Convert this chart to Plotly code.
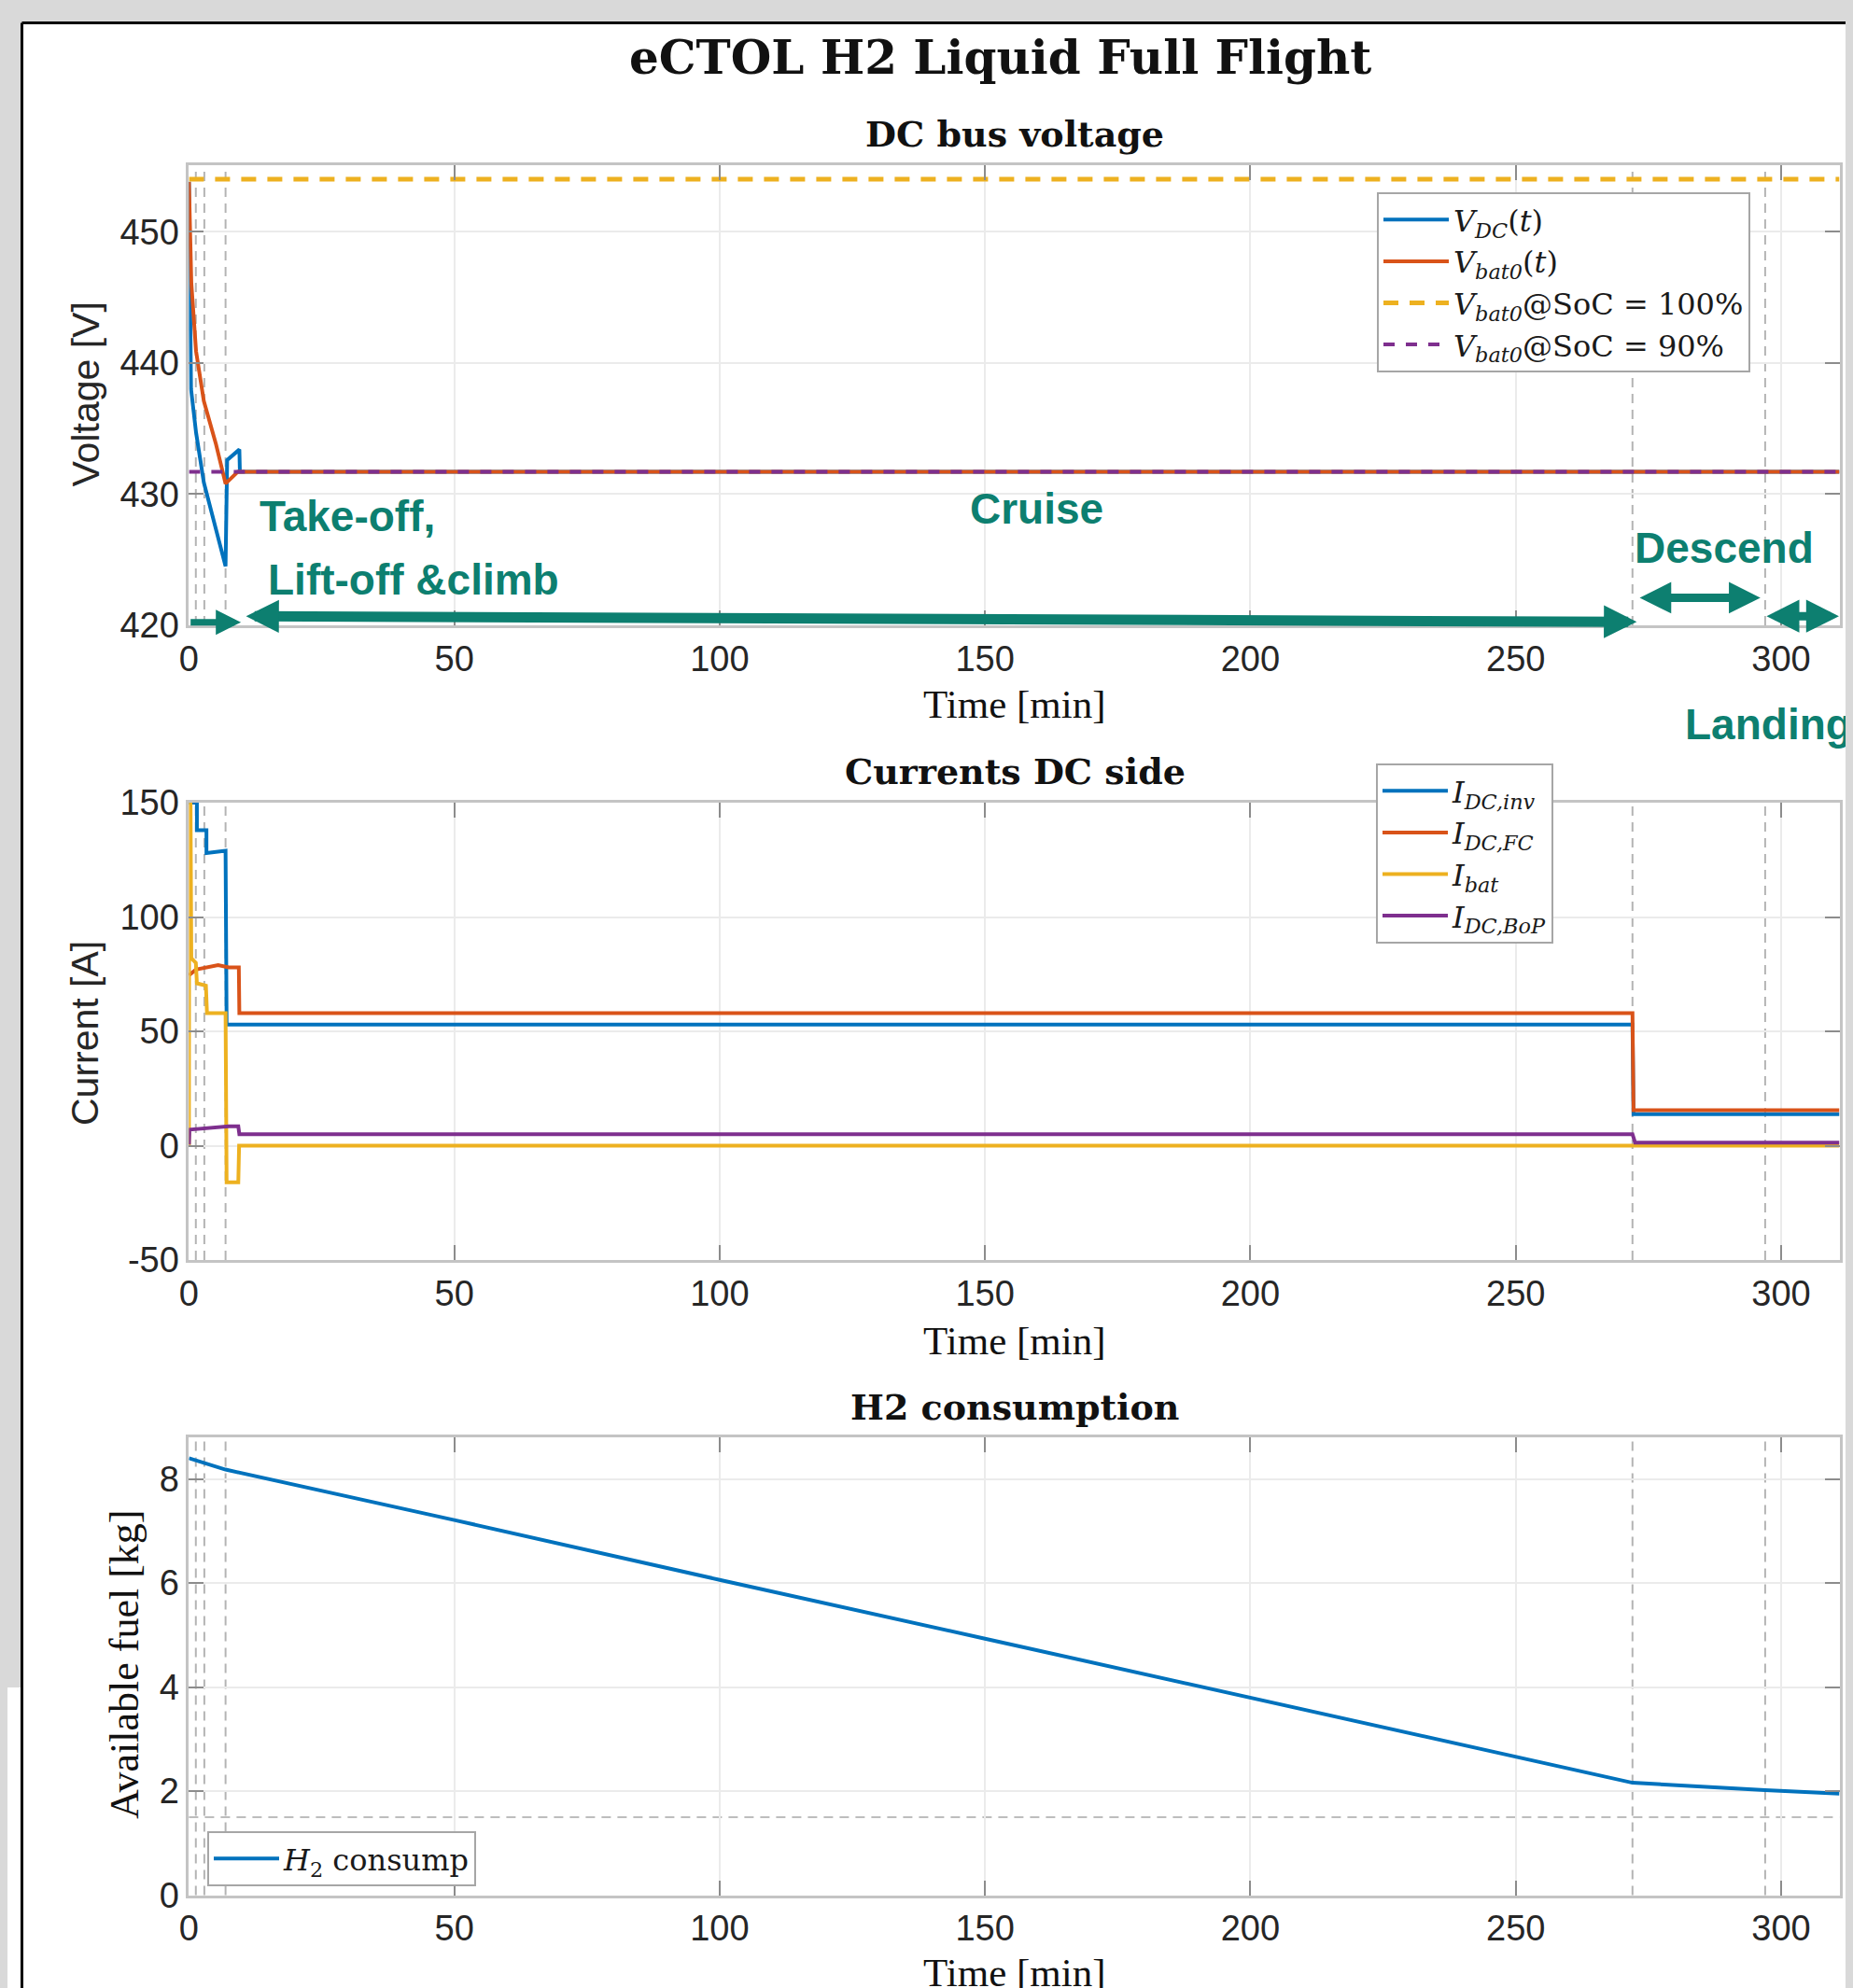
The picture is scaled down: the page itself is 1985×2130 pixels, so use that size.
import plotly.graph_objects as go

# ---------------- data ----------------
phase_bounds_min = [1.3, 2.9, 6.9, 272.0, 297.0]

# DC bus voltage
t_vdc = [0, 0.1, 0.4, 1.34, 2.8, 6.9, 7.2, 9.5, 9.6, 311]
v_dc = [453.8, 450.0, 438.0, 434.7, 430.9, 424.5, 432.6, 433.4, 431.7, 431.7]
t_vbat = [0, 0.45, 1.34, 2.8, 5.1, 6.9, 9.2, 311]
v_bat = [453.8, 446.1, 440.9, 437.1, 433.8, 430.8, 431.7, 431.7]
t_ref = [0, 311]
v_soc100 = [454.0, 454.0]
v_soc90 = [431.7, 431.7]

# Currents DC side
t_inv = [0, 1.5, 1.5, 3.3, 3.3, 6.9, 7.1, 272.0, 272.2, 311]
i_inv = [150, 150, 138, 138, 128, 129, 53, 53, 13.8, 13.8]
t_fc = [0, 1.3, 5.5, 7.5, 9.4, 9.5, 272.0, 272.2, 311]
i_fc = [74.5, 77, 79, 78, 78, 58, 58, 15.5, 15.5]
t_bat = [0, 0.05, 0.3, 0.45, 1.3, 1.5, 3.2, 3.4, 6.9, 7.1, 9.3, 9.45, 311]
i_bat = [0, 150, 150, 82, 80, 71, 70, 58, 58, -16, -16, 0, 0]
t_bop = [0, 0.1, 7.5, 9.3, 9.5, 272.0, 272.5, 311]
i_bop = [0.5, 7.0, 8.5, 8.5, 5.0, 5.0, 1.3, 1.3]

# H2 consumption
t_h2 = [0, 1.34, 2.9, 6.9, 50, 100, 150, 200, 250, 272, 297, 311]
h2_kg = [8.40, 8.36, 8.31, 8.18, 7.21, 6.06, 4.93, 3.80, 2.66, 2.16, 2.02, 1.95]
fuel_reserve_kg = 1.5

x_ticks = [0, 50, 100, 150, 200, 250, 300]
y1_ticks = [420, 430, 440, 450]
y2_ticks = [-50, 0, 50, 100, 150]
y2_tick_labels = ["-50", "0", "50", "100", "150"]
y3_ticks = [0, 2, 4, 6, 8]

# ---------------- styling ----------------
W, H = 1985, 2130
OFF = 8  # default page margin of the html body
BLUE, ORANGE, YELLOW, PURPLE = "#0072BD", "#D95319", "#EDB120", "#7E2F8E"
TEAL = "#0d7f70"
LW = 4


def px(xp):
    return (xp - OFF) / W


def py(yp):
    return 1 - (yp - OFF) / H


fig = go.Figure()

# plot 1
fig.add_trace(go.Scatter(x=t_vdc, y=v_dc, mode="lines", line=dict(color=BLUE, width=LW),
                         name="<i>V</i><sub><i>DC</i></sub>(<i>t</i>)", xaxis="x", yaxis="y", legend="legend"))
fig.add_trace(go.Scatter(x=t_vbat, y=v_bat, mode="lines", line=dict(color=ORANGE, width=LW),
                         name="<i>V</i><sub><i>bat0</i></sub>(<i>t</i>)", xaxis="x", yaxis="y", legend="legend"))
fig.add_trace(go.Scatter(x=t_ref, y=v_soc100, mode="lines",
                         line=dict(color=YELLOW, width=5, dash="16px,12px"),
                         name="<i>V</i><sub><i>bat0</i></sub>@SoC = 100%", xaxis="x", yaxis="y", legend="legend"))
fig.add_trace(go.Scatter(x=t_ref, y=v_soc90, mode="lines",
                         line=dict(color=PURPLE, width=4, dash="12px,12px"),
                         name="<i>V</i><sub><i>bat0</i></sub>@SoC = 90%", xaxis="x", yaxis="y", legend="legend"))

# plot 2
fig.add_trace(go.Scatter(x=t_inv, y=i_inv, mode="lines", line=dict(color=BLUE, width=LW),
                         name="<i>I</i><sub><i>DC,inv</i></sub>", xaxis="x2", yaxis="y2", legend="legend2"))
fig.add_trace(go.Scatter(x=t_fc, y=i_fc, mode="lines", line=dict(color=ORANGE, width=LW),
                         name="<i>I</i><sub><i>DC,FC</i></sub>", xaxis="x2", yaxis="y2", legend="legend2"))
fig.add_trace(go.Scatter(x=t_bat, y=i_bat, mode="lines", line=dict(color=YELLOW, width=LW),
                         name="<i>I</i><sub><i>bat</i></sub>", xaxis="x2", yaxis="y2", legend="legend2"))
fig.add_trace(go.Scatter(x=t_bop, y=i_bop, mode="lines", line=dict(color=PURPLE, width=LW),
                         name="<i>I</i><sub><i>DC,BoP</i></sub>", xaxis="x2", yaxis="y2", legend="legend2"))

# plot 3
fig.add_trace(go.Scatter(x=t_h2, y=h2_kg, mode="lines", line=dict(color=BLUE, width=LW),
                         name="<i>H</i><sub>2</sub> consump", xaxis="x3", yaxis="y3", legend="legend3"))

x_dom = [px(202.4), px(1970.5)]
y_doms = [[py(670), py(176.6)], [py(1350), py(860)], [py(2030.5), py(1540)]]

tickfont = dict(family="Liberation Sans, Arial, sans-serif", size=38, color="#262626")


def axis_common():
    return dict(showline=True, linecolor="#c4c4c4", linewidth=3, mirror="ticks", automargin=False,
                showgrid=True, gridcolor="#ebebeb", gridwidth=2, zeroline=False,
                ticks="inside", ticklen=16, tickwidth=2, tickcolor="#8c8c8c",
                tickfont=tickfont)


layout = dict(width=W, height=H, autosize=False,
              margin=dict(l=0, r=0, t=0, b=0, pad=0, autoexpand=False),
              paper_bgcolor="white", plot_bgcolor="white", showlegend=True)

for i, (xa, ya) in enumerate([("xaxis", "yaxis"), ("xaxis2", "yaxis2"), ("xaxis3", "yaxis3")]):
    xd = axis_common()
    xd.update(domain=x_dom, range=[0, 311], tickvals=x_ticks, anchor="y" if i == 0 else f"y{i+1}")
    yd = axis_common()
    yd.update(domain=y_doms[i], anchor="x" if i == 0 else f"x{i+1}")
    layout[xa] = xd
    layout[ya] = yd

layout["yaxis"].update(range=[420, 455.1], tickvals=y1_ticks)
layout["yaxis2"].update(range=[-50, 150], tickvals=y2_ticks, ticktext=y2_tick_labels)
layout["yaxis3"].update(range=[0, 8.8], tickvals=y3_ticks)

leg_font = dict(family="DejaVu Serif, serif", size=32, color="#1a1a1a")
leg_common = dict(bgcolor="white", bordercolor="#a6a6a6", borderwidth=2, font=leg_font,
                  xref="container", yref="container",
                  xanchor="left", yanchor="top", tracegroupgap=0, itemwidth=70)
layout["legend"] = dict(x=px(1475), y=py(206), **leg_common)
layout["legend2"] = dict(x=px(1474), y=py(818), **leg_common)
layout["legend3"] = dict(x=px(222), y=py(1962), **leg_common)

fig.update_layout(**layout)

# ---------------- shapes: phase boundaries, reserve, page frame ----------------
shapes = []
for k, (xr, yr) in enumerate([("x", "y"), ("x2", "y2"), ("x3", "y3")]):
    for tb in phase_bounds_min:
        shapes.append(dict(type="line", xref=xr, yref=f"{yr} domain", x0=tb, x1=tb, y0=0, y1=1,
                           line=dict(color="#b4b4b4", width=2, dash="10px,7px"), layer="below"))
shapes.append(dict(type="line", xref="x3 domain", yref="y3", x0=0, x1=1, y0=fuel_reserve_kg, y1=fuel_reserve_kg,
                   line=dict(color="#bdbdbd", width=2, dash="10px,7px"), layer="below"))
# page frame (grey surround + black border)
shapes.append(dict(type="rect", xref="paper", yref="paper", x0=0, x1=1, y0=py(24.5), y1=1,
                   fillcolor="#d9d9d9", line=dict(width=0), layer="below"))
shapes.append(dict(type="rect", xref="paper", yref="paper", x0=0, x1=px(23.5), y0=py(1808), y1=1,
                   fillcolor="#d9d9d9", line=dict(width=0), layer="below"))
shapes.append(dict(type="line", xref="paper", yref="paper", x0=px(23.5), x1=1, y0=py(24.5), y1=py(24.5),
                   line=dict(color="black", width=3), layer="below"))
shapes.append(dict(type="line", xref="paper", yref="paper", x0=px(23.5), x1=px(23.5), y0=0, y1=py(24.5),
                   line=dict(color="black", width=3), layer="below"))
fig.update_layout(shapes=shapes)

# ---------------- text annotations ----------------
ann = []
serif_b = "DejaVu Serif, serif"
ann.append(dict(text="<b>eCTOL H2 Liquid Full Flight</b>", x=px(1071), y=py(62), xref="paper", yref="paper",
                showarrow=False, font=dict(family=serif_b, size=50, color="#111111"), xanchor="center", yanchor="middle"))
for title, ycen in [("DC bus voltage", 144), ("Currents DC side", 826), ("H2 consumption", 1507)]:
    ann.append(dict(text=f"<b>{title}</b>", x=px(1087), y=py(ycen), xref="paper", yref="paper", showarrow=False,
                    font=dict(family=serif_b, size=38, color="#111111"), xanchor="center", yanchor="middle"))
for ycen in [754, 1436, 2113]:
    ann.append(dict(text="Time [min]", x=px(1087), y=py(ycen), xref="paper", yref="paper", showarrow=False,
                    font=dict(family="Liberation Serif, serif", size=43, color="#111111"),
                    xanchor="center", yanchor="middle"))
ann.append(dict(text="Voltage [V]", x=px(91), y=py(422.5), xref="paper", yref="paper", showarrow=False, textangle=-90,
                font=dict(family="Liberation Sans, Arial, sans-serif", size=41, color="#262626"),
                xanchor="center", yanchor="middle"))
ann.append(dict(text="Current [A]", x=px(91), y=py(1107), xref="paper", yref="paper", showarrow=False, textangle=-90,
                font=dict(family="Liberation Sans, Arial, sans-serif", size=41, color="#262626"),
                xanchor="center", yanchor="middle"))
ann.append(dict(text="Available fuel [kg]", x=px(133), y=py(1784), xref="paper", yref="paper", showarrow=False,
                textangle=-90, font=dict(family="Liberation Serif, serif", size=44, color="#111111"),
                xanchor="center", yanchor="middle"))

phase_font = dict(family="Liberation Sans, Arial, sans-serif", size=46, color=TEAL)
ann.append(dict(text="<b>Take-off,</b>", x=12.9, y=428.3, xref="x", yref="y", showarrow=False, font=phase_font,
                xanchor="left", yanchor="middle"))
ann.append(dict(text="<b>Lift-off &amp;climb</b>", x=14.5, y=423.5, xref="x", yref="y", showarrow=False,
                font=phase_font, xanchor="left", yanchor="middle"))
ann.append(dict(text="<b>Cruise</b>", x=159.7, y=428.9, xref="x", yref="y", showarrow=False, font=phase_font,
                xanchor="center", yanchor="middle"))
ann.append(dict(text="<b>Descend</b>", x=289.3, y=425.9, xref="x", yref="y", showarrow=False, font=phase_font,
                xanchor="center", yanchor="middle"))
ann.append(dict(text="<b>Landing</b>", x=px(1803), y=py(776), xref="paper", yref="paper", showarrow=False,
                font=phase_font, xanchor="left", yanchor="middle"))

# phase arrows
arrow_base = dict(xref="x", yref="y", axref="x", ayref="y", text="", showarrow=True,
                  arrowcolor=TEAL, arrowhead=2, standoff=0, startstandoff=0)
ann.append(dict(x=9.8, y=420.23, ax=0.05, ay=420.23, arrowwidth=7, arrowsize=0.77, **arrow_base))
ann.append(dict(x=272.8, y=420.26, ax=10.5, ay=420.7, arrowwidth=11, arrowsize=0.64,
                arrowside="end+start", startarrowhead=2, startarrowsize=0.64, **arrow_base))
ann.append(dict(x=296.1, y=422.1, ax=273.1, ay=422.1, arrowwidth=9, arrowsize=0.75,
                arrowside="end+start", startarrowhead=2, startarrowsize=0.75, **arrow_base))
ann.append(dict(x=310.9, y=420.7, ax=297.0, ay=420.7, arrowwidth=9, arrowsize=0.78,
                arrowside="end+start", startarrowhead=2, startarrowsize=0.78, **arrow_base))

fig.update_layout(annotations=ann)

fig.write_html("out.html", config={"displayModeBar": False},
               post_script="document.body.style.backgroundColor='#d9d9d9';")
